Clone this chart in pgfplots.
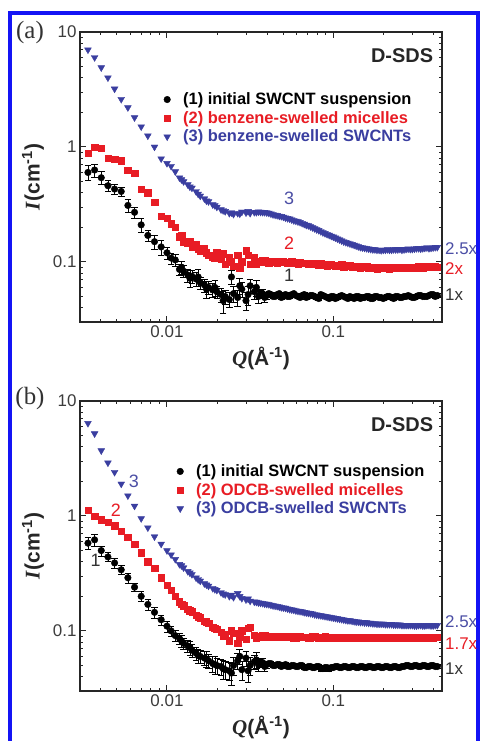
\documentclass[border=0pt]{standalone}
\usepackage{fontspec}
\setmainfont{Liberation Sans}
\newfontfamily\tnr{Liberation Serif}
\usepackage{pgfplots}
\pgfplotsset{compat=1.18}
\usepackage{pgfplotstable}
\definecolor{cred}{RGB}{232,28,36}
\definecolor{cblue}{RGB}{58,62,160}
\definecolor{lblue}{RGB}{75,78,165}
\definecolor{frameblue}{RGB}{20,20,245}
\definecolor{tk}{RGB}{60,60,60}

\pgfplotstableread{
Q I1 E1 I2 I3
0.003350 0.60 0.09 0.88 7.0
0.003673 0.63 0.08 1.00 6.0
0.004027 0.54 0.07 0.97 4.9
0.004416 0.46 0.05 0.80 4.0
0.004842 0.43 0.04 0.78 3.2
0.005309 0.41 0.04 0.76 2.6
0.005821 0.31 0.04 0.63 2.2
0.006383 0.27 0.03 0.59 1.8
0.006998 0.21 0.03 0.43 1.5
0.007674 0.17 0.02 0.40 1.25
0.008414 0.15 0.02 0.33 1.0
0.009226 0.135 0.02 0.25 0.79
0.01000 0.12 0.015 0.24 0.72
0.01059 0.108 0.012 0.215 0.68
0.01122 0.104 0.012 0.20 0.61
0.01189 0.086 0.010 0.165 0.54
0.01259 0.083 0.010 0.15 0.50
0.01334 0.077 0.010 0.145 0.47
0.01413 0.075 0.010 0.135 0.44
0.01496 0.071 0.010 0.142 0.41
0.01585 0.066 0.008 0.125 0.375
0.01679 0.063 0.008 0.13 0.355
0.01778 0.060 0.008 0.115 0.335
0.01884 0.057 0.008 0.11 0.315
0.01995 0.055 0.007 0.12 0.30
0.02113 0.052 0.007 0.105 0.285
0.02239 0.050 0.007 0.095 0.275
0.02371 0.047 0.007 0.11 0.265
0.02512 0.053 0.008 0.092 0.26
0.02661 0.049 0.008 0.115 0.265
0.02818 0.058 0.009 0.10 0.272
0.02985 0.046 0.008 0.125 0.268
0.03162 0.062 0.009 0.096 0.265
0.03350 0.055 0.008 0.11 0.27
0.03548 0.050 0.006 0.102 0.273
0.03758 0.053 0.005 0.104 0.27
0.03981 0.051 0.004 0.101 0.268
0.04217 0.052 0.003 0.100 0.262
0.04467 0.050 0.002 0.102 0.256
0.04732 0.053 0.002 0.099 0.251
0.05012 0.051 0.002 0.101 0.246
0.05309 0.050 0.002 0.098 0.239
0.05623 0.052 0.002 0.100 0.233
0.05957 0.051 0.002 0.097 0.227
0.06310 0.049 0.002 0.099 0.221
0.06683 0.052 0.002 0.098 0.213
0.07079 0.050 0.002 0.096 0.207
0.07499 0.051 0.002 0.098 0.199
0.07943 0.049 0.002 0.095 0.191
0.08414 0.052 0.002 0.097 0.184
0.08913 0.050 0.002 0.094 0.177
0.09441 0.048 0.002 0.096 0.171
0.1000 0.050 0.002 0.094 0.165
0.1059 0.049 0.002 0.093 0.159
0.1122 0.051 0.002 0.095 0.153
0.1189 0.049 0.002 0.092 0.148
0.1259 0.050 0.002 0.093 0.144
0.1334 0.048 0.002 0.091 0.140
0.1413 0.050 0.002 0.092 0.136
0.1496 0.049 0.002 0.090 0.133
0.1585 0.050 0.002 0.091 0.131
0.1679 0.048 0.002 0.089 0.129
0.1778 0.050 0.002 0.090 0.128
0.1884 0.049 0.002 0.088 0.127
0.1995 0.048 0.002 0.089 0.127
0.2113 0.050 0.002 0.088 0.128
0.2239 0.049 0.002 0.089 0.127
0.2371 0.050 0.002 0.088 0.128
0.2512 0.049 0.002 0.089 0.129
0.2661 0.050 0.002 0.088 0.128
0.2818 0.051 0.002 0.089 0.130
0.2985 0.049 0.002 0.090 0.129
0.3162 0.050 0.002 0.089 0.131
0.3350 0.051 0.002 0.090 0.130
0.3548 0.050 0.002 0.091 0.132
0.3758 0.051 0.002 0.090 0.131
0.3981 0.052 0.002 0.091 0.133
0.4217 0.051 0.002 0.090 0.134
0.01223 0.090 0.012 0.17 0.52
0.01373 0.072 0.012 0.15 0.45
0.01540 0.074 0.012 0.13 0.39
0.01728 0.058 0.010 0.12 0.34
0.01939 0.060 0.010 0.108 0.31
0.02176 0.046 0.010 0.118 0.28
0.02441 0.074 0.010 0.100 0.268
0.02739 0.062 0.010 0.088 0.262
0.03073 0.052 0.010 0.115 0.275
0.03448 0.060 0.010 0.095 0.27
0.03652 0.053 0.004 0.099 0.271
0.03868 0.049 0.004 0.103 0.270
0.04097 0.053 0.003 0.098 0.266
0.04340 0.050 0.002 0.101 0.258
0.04597 0.052 0.002 0.097 0.254
0.04870 0.049 0.002 0.100 0.249
0.05158 0.052 0.002 0.099 0.242
0.05464 0.050 0.002 0.097 0.237
0.05788 0.053 0.002 0.099 0.229
0.06131 0.050 0.002 0.096 0.224
0.06494 0.051 0.002 0.098 0.217
0.06879 0.049 0.002 0.097 0.209
0.07286 0.051 0.002 0.095 0.203
0.07718 0.050 0.002 0.097 0.195
0.08175 0.048 0.002 0.094 0.188
0.08660 0.051 0.002 0.096 0.180
0.09173 0.049 0.002 0.093 0.174
0.09716 0.050 0.002 0.095 0.168
0.1029 0.048 0.002 0.092 0.162
0.1090 0.050 0.002 0.094 0.156
0.1155 0.050 0.002 0.091 0.150
0.1223 0.048 0.002 0.093 0.146
0.1296 0.049 0.002 0.090 0.142
0.1372 0.050 0.002 0.092 0.138
0.1454 0.048 0.002 0.089 0.134
0.1540 0.049 0.002 0.091 0.132
0.1631 0.050 0.002 0.088 0.130
0.1728 0.048 0.002 0.090 0.128
0.1830 0.050 0.002 0.087 0.127
0.1939 0.049 0.002 0.089 0.126
0.2054 0.049 0.002 0.089 0.127
0.2175 0.050 0.002 0.087 0.127
0.2304 0.048 0.002 0.089 0.128
0.2441 0.050 0.002 0.088 0.128
0.2585 0.049 0.002 0.090 0.127
0.2738 0.050 0.002 0.088 0.129
0.2901 0.050 0.002 0.090 0.129
0.3073 0.049 0.002 0.089 0.130
0.3255 0.051 0.002 0.091 0.131
0.3448 0.050 0.002 0.089 0.131
0.3652 0.050 0.002 0.091 0.133
0.3868 0.052 0.002 0.090 0.132
0.4097 0.050 0.002 0.092 0.134
}\dataA

\pgfplotstableread{
Q I1 E1 I2 I3
0.003350 0.58 0.07 1.12 6.4
0.003673 0.62 0.07 1.00 5.2
0.004027 0.50 0.05 0.93 3.7
0.004416 0.44 0.04 0.88 2.9
0.004842 0.39 0.04 0.82 2.4
0.005309 0.34 0.03 0.74 1.9
0.005821 0.29 0.03 0.65 1.5
0.006383 0.24 0.02 0.57 1.22
0.006998 0.20 0.02 0.48 0.95
0.007674 0.17 0.02 0.40 0.79
0.008414 0.145 0.015 0.35 0.66
0.009226 0.125 0.012 0.29 0.57
0.01000 0.11 0.012 0.25 0.50
0.01059 0.10 0.010 0.225 0.46
0.01122 0.091 0.010 0.20 0.42
0.01189 0.086 0.010 0.18 0.38
0.01259 0.078 0.009 0.166 0.355
0.01334 0.074 0.009 0.155 0.33
0.01413 0.068 0.009 0.147 0.31
0.01496 0.064 0.008 0.137 0.29
0.01585 0.060 0.008 0.13 0.272
0.01679 0.058 0.008 0.122 0.258
0.01778 0.055 0.008 0.116 0.246
0.01884 0.052 0.008 0.108 0.235
0.01995 0.050 0.008 0.104 0.226
0.02113 0.049 0.008 0.098 0.216
0.02239 0.046 0.008 0.093 0.207
0.02371 0.045 0.008 0.082 0.20
0.02512 0.050 0.009 0.095 0.196
0.02661 0.055 0.009 0.078 0.212
0.02818 0.046 0.009 0.10 0.192
0.02985 0.058 0.009 0.085 0.187
0.03162 0.050 0.009 0.108 0.182
0.03350 0.054 0.008 0.092 0.179
0.03548 0.051 0.006 0.090 0.176
0.03758 0.053 0.005 0.091 0.174
0.03981 0.051 0.004 0.089 0.171
0.04217 0.052 0.003 0.090 0.168
0.04467 0.050 0.002 0.088 0.165
0.04732 0.051 0.002 0.090 0.162
0.05012 0.050 0.002 0.089 0.159
0.05309 0.049 0.002 0.088 0.156
0.05623 0.050 0.002 0.090 0.153
0.05957 0.049 0.002 0.087 0.150
0.06310 0.050 0.002 0.089 0.148
0.06683 0.048 0.002 0.088 0.145
0.07079 0.049 0.002 0.087 0.143
0.07499 0.048 0.002 0.089 0.141
0.07943 0.049 0.002 0.088 0.138
0.08414 0.047 0.002 0.087 0.136
0.08913 0.048 0.002 0.089 0.134
0.09441 0.047 0.002 0.087 0.132
0.1000 0.048 0.002 0.088 0.130
0.1059 0.049 0.002 0.087 0.128
0.1122 0.048 0.002 0.088 0.126
0.1189 0.049 0.002 0.086 0.124
0.1259 0.048 0.002 0.087 0.123
0.1334 0.049 0.002 0.086 0.121
0.1413 0.048 0.002 0.087 0.120
0.1496 0.049 0.002 0.086 0.119
0.1585 0.048 0.002 0.087 0.118
0.1679 0.049 0.002 0.086 0.117
0.1778 0.048 0.002 0.087 0.116
0.1884 0.049 0.002 0.086 0.115
0.1995 0.048 0.002 0.087 0.115
0.2113 0.049 0.002 0.086 0.114
0.2239 0.048 0.002 0.087 0.114
0.2371 0.049 0.002 0.086 0.113
0.2512 0.048 0.002 0.087 0.113
0.2661 0.049 0.002 0.086 0.112
0.2818 0.050 0.002 0.087 0.112
0.2985 0.049 0.002 0.088 0.112
0.3162 0.050 0.002 0.087 0.111
0.3350 0.049 0.002 0.088 0.112
0.3548 0.050 0.002 0.087 0.111
0.3758 0.049 0.002 0.088 0.112
0.3981 0.050 0.002 0.087 0.111
0.4217 0.049 0.002 0.088 0.112
0.01223 0.082 0.010 0.17 0.37
0.01373 0.072 0.010 0.15 0.32
0.01540 0.061 0.009 0.133 0.28
0.01728 0.057 0.009 0.120 0.252
0.01939 0.051 0.009 0.105 0.230
0.02176 0.047 0.009 0.090 0.21
0.02441 0.043 0.009 0.100 0.205
0.02739 0.060 0.009 0.088 0.20
0.03073 0.045 0.009 0.105 0.19
0.03448 0.056 0.009 0.086 0.178
0.03652 0.052 0.004 0.089 0.175
0.03868 0.049 0.004 0.091 0.172
0.04097 0.052 0.003 0.088 0.170
0.04340 0.050 0.002 0.090 0.166
0.04597 0.051 0.002 0.088 0.164
0.04870 0.049 0.002 0.090 0.160
0.05158 0.051 0.002 0.088 0.158
0.05464 0.049 0.002 0.089 0.154
0.05788 0.050 0.002 0.087 0.152
0.06131 0.049 0.002 0.089 0.149
0.06494 0.050 0.002 0.088 0.147
0.06879 0.048 0.002 0.088 0.144
0.07286 0.049 0.002 0.087 0.142
0.07718 0.048 0.002 0.089 0.139
0.08175 0.049 0.002 0.087 0.137
0.08660 0.047 0.002 0.088 0.135
0.09173 0.048 0.002 0.087 0.133
0.09716 0.048 0.002 0.088 0.131
0.1029 0.049 0.002 0.087 0.129
0.1090 0.048 0.002 0.088 0.127
0.1155 0.049 0.002 0.086 0.125
0.1223 0.048 0.002 0.087 0.123
0.1296 0.049 0.002 0.086 0.122
0.1372 0.048 0.002 0.087 0.120
0.1454 0.049 0.002 0.086 0.119
0.1540 0.048 0.002 0.087 0.118
0.1631 0.049 0.002 0.086 0.117
0.1728 0.048 0.002 0.087 0.116
0.1830 0.049 0.002 0.086 0.115
0.1939 0.048 0.002 0.087 0.115
0.2054 0.049 0.002 0.086 0.114
0.2175 0.048 0.002 0.087 0.114
0.2304 0.049 0.002 0.086 0.113
0.2441 0.048 0.002 0.087 0.113
0.2585 0.049 0.002 0.086 0.112
0.2738 0.050 0.002 0.087 0.112
0.2901 0.049 0.002 0.088 0.112
0.3073 0.050 0.002 0.087 0.111
0.3255 0.049 0.002 0.088 0.112
0.3448 0.050 0.002 0.087 0.111
0.3652 0.049 0.002 0.088 0.112
0.3868 0.050 0.002 0.087 0.111
0.4097 0.049 0.002 0.088 0.112
}\dataB

\begin{document}
\begin{tikzpicture}
\useasboundingbox (0,0) rectangle (481bp,741bp);
\fill[white] (0,0) rectangle (481bp,741bp);
\draw[frameblue, line width=4bp] (10bp,-20bp) -- (10bp,728bp) -- (478bp,728bp) -- (478bp,-20bp);

\begin{axis}[at={(80bp,419bp)}, anchor=south west,
  xmode=log, ymode=log, scale only axis, width=362bp, height=290bp,
  xmin=0.003, xmax=0.45, ymin=0.03, ymax=10,
  xtick={0.01,0.1}, xticklabels={0.01,0.1},
  ytick={0.1,1,10}, yticklabels={0.1,1,10},
  minor xtick={0.004,0.005,0.006,0.007,0.008,0.009,0.02,0.03,0.04,0.05,0.06,0.07,0.08,0.09,0.2,0.3,0.4},
  minor ytick={0.04,0.05,0.06,0.07,0.08,0.09,0.2,0.3,0.4,0.5,0.6,0.7,0.8,0.9,2,3,4,5,6,7,8,9},
  tick align=inside, major tick length=6bp, minor tick length=3.5bp,
  axis line style={line width=1.3bp, black!85},
  tick style={black!85, line width=1bp},
  tick label style={font=\fontsize{17}{17}\selectfont, text=tk},
  clip=false,
  xlabel style={at={(rel axis cs:0.5,0)}, anchor=center, yshift=-36bp, font=\fontsize{21}{21}\selectfont, text=black!85},
  xlabel={{\tnr\bfseries\itshape Q}\textbf{(Å\textsuperscript{-1})}},
  legend style={draw=none, fill=none, inner sep=0pt, row sep=4bp, column sep=12bp,
    font=\fontsize{16.5}{18}\selectfont\bfseries, nodes={inner sep=0.6bp},
    at={(0.231,0.793)}, anchor=north west},
  legend cell align=left]
\addplot[only marks, mark=*, mark size=3.3bp, mark options={draw=black, fill=black},
  error bars/.cd, y dir=both, y explicit, error bar style={black, line width=0.6bp}] table[x=Q, y=I1, y error=E1] {\dataA};
\addlegendentry{\textcolor{black}{(1) initial SWCNT suspension}}
\addplot[only marks, mark=square*, mark size=3.2bp, mark options={draw=cred, fill=cred}] table[x=Q, y=I2] {\dataA};
\addlegendentry{\textcolor{cred}{(2) benzene-swelled micelles}}
\addplot[only marks, mark=triangle*, mark size=3.9bp, mark options={draw=cblue, fill=cblue, rotate=180}] table[x=Q, y=I3] {\dataA};
\addlegendentry{\textcolor{cblue}{(3) benzene-swelled SWCNTs}}
\node[rotate=90, anchor=center, font=\fontsize{21}{21}\selectfont, text=black!85] at ([xshift=-47bp]rel axis cs:0,0.5) {{\tnr\bfseries\itshape I}\textbf{(cm\textsuperscript{-1})}};
\node[anchor=east, font=\fontsize{20}{20}\selectfont\bfseries, text=black!85] at (rel axis cs:0.985,0.92) {D-SDS};
\node[font=\fontsize{18}{18}\selectfont, text=lblue] at (axis cs:0.0543,0.356) {3};
\node[font=\fontsize{18}{18}\selectfont, text=cred] at (axis cs:0.0543,0.146) {2};
\node[font=\fontsize{18}{18}\selectfont, text=black!80] at (axis cs:0.0543,0.0758) {1};
\node[anchor=west, inner sep=0pt, font=\fontsize{17}{17}\selectfont, text=lblue] at (axis cs:0.45,0.130) {\hspace{3bp}2.5x};
\node[anchor=west, inner sep=0pt, font=\fontsize{17}{17}\selectfont, text=cred] at (axis cs:0.45,0.088) {\hspace{3bp}2x};
\node[anchor=west, inner sep=0pt, font=\fontsize{17}{17}\selectfont, text=black!80] at (axis cs:0.45,0.052) {\hspace{3bp}1x};
\end{axis}

\begin{axis}[at={(80bp,50bp)}, anchor=south west,
  xmode=log, ymode=log, scale only axis, width=362bp, height=290bp,
  xmin=0.003, xmax=0.45, ymin=0.03, ymax=10,
  xtick={0.01,0.1}, xticklabels={0.01,0.1},
  ytick={0.1,1,10}, yticklabels={0.1,1,10},
  minor xtick={0.004,0.005,0.006,0.007,0.008,0.009,0.02,0.03,0.04,0.05,0.06,0.07,0.08,0.09,0.2,0.3,0.4},
  minor ytick={0.04,0.05,0.06,0.07,0.08,0.09,0.2,0.3,0.4,0.5,0.6,0.7,0.8,0.9,2,3,4,5,6,7,8,9},
  tick align=inside, major tick length=6bp, minor tick length=3.5bp,
  axis line style={line width=1.3bp, black!85},
  tick style={black!85, line width=1bp},
  tick label style={font=\fontsize{17}{17}\selectfont, text=tk},
  clip=false,
  xlabel style={at={(rel axis cs:0.5,0)}, anchor=center, yshift=-36bp, font=\fontsize{21}{21}\selectfont, text=black!85},
  xlabel={{\tnr\bfseries\itshape Q}\textbf{(Å\textsuperscript{-1})}},
  legend style={draw=none, fill=none, inner sep=0pt, row sep=4bp, column sep=12bp,
    font=\fontsize{16.5}{18}\selectfont\bfseries, nodes={inner sep=0.6bp},
    at={(0.267,0.783)}, anchor=north west},
  legend cell align=left]
\addplot[only marks, mark=*, mark size=3.3bp, mark options={draw=black, fill=black},
  error bars/.cd, y dir=both, y explicit, error bar style={black, line width=0.6bp}] table[x=Q, y=I1, y error=E1] {\dataB};
\addlegendentry{\textcolor{black}{(1) initial SWCNT suspension}}
\addplot[only marks, mark=square*, mark size=3.2bp, mark options={draw=cred, fill=cred}] table[x=Q, y=I2] {\dataB};
\addlegendentry{\textcolor{cred}{(2) ODCB-swelled micelles}}
\addplot[only marks, mark=triangle*, mark size=3.9bp, mark options={draw=cblue, fill=cblue, rotate=180}] table[x=Q, y=I3] {\dataB};
\addlegendentry{\textcolor{cblue}{(3) ODCB-swelled SWCNTs}}
\node[rotate=90, anchor=center, font=\fontsize{21}{21}\selectfont, text=black!85] at ([xshift=-47bp]rel axis cs:0,0.5) {{\tnr\bfseries\itshape I}\textbf{(cm\textsuperscript{-1})}};
\node[anchor=east, font=\fontsize{20}{20}\selectfont\bfseries, text=black!85] at (rel axis cs:0.985,0.917) {D-SDS};
\node[font=\fontsize{18}{18}\selectfont, text=lblue] at (axis cs:0.00632,1.99) {3};
\node[font=\fontsize{18}{18}\selectfont, text=cred] at (axis cs:0.00493,1.12) {2};
\node[font=\fontsize{18}{18}\selectfont, text=black!80] at (axis cs:0.00373,0.41) {1};
\node[anchor=west, inner sep=0pt, font=\fontsize{17}{17}\selectfont, text=lblue] at (axis cs:0.45,0.121) {\hspace{3bp}2.5x};
\node[anchor=west, inner sep=0pt, font=\fontsize{17}{17}\selectfont, text=cred] at (axis cs:0.45,0.078) {\hspace{3bp}1.7x};
\node[anchor=west, inner sep=0pt, font=\fontsize{17}{17}\selectfont, text=black!80] at (axis cs:0.45,0.047) {\hspace{3bp}1x};
\end{axis}

\node[font=\tnr\fontsize{25}{25}\selectfont, text=black!80] at (30bp,708bp) {(a)};
\node[font=\tnr\fontsize{25}{25}\selectfont, text=black!80] at (30bp,342bp) {(b)};
\end{tikzpicture}
\end{document}
